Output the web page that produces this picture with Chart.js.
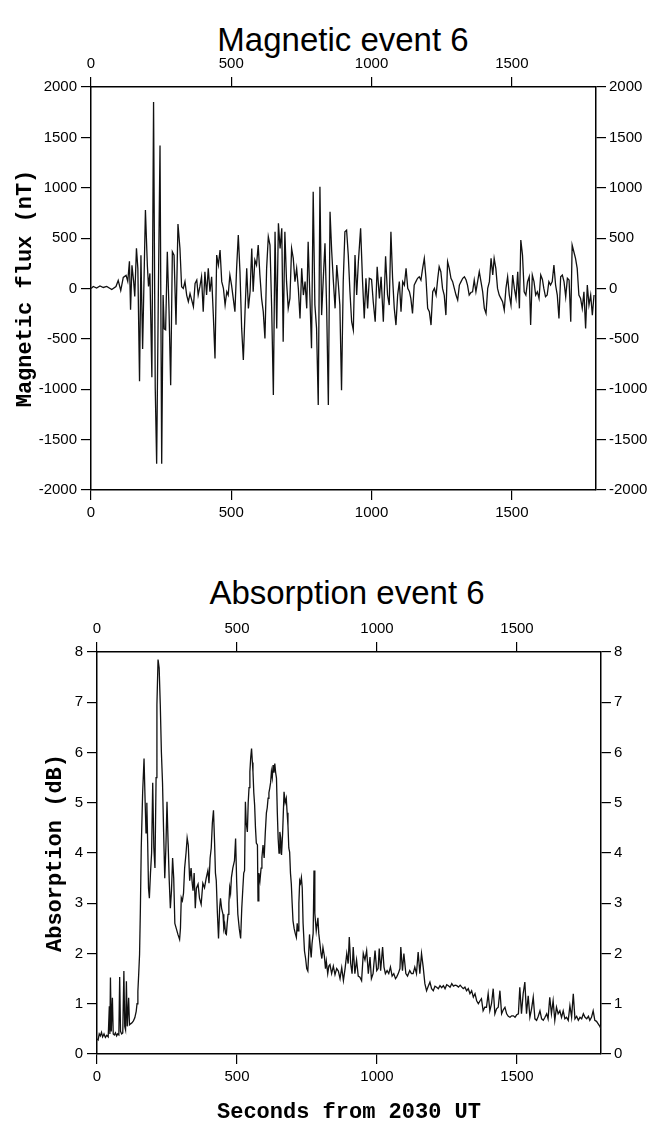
<!DOCTYPE html>
<html>
<head>
<meta charset="utf-8">
<title>Magnetic and absorption event 6</title>
<script src="https://cdn.jsdelivr.net/npm/chart.js@4.4.1/dist/chart.umd.min.js"></script>
<style>
  body { margin: 0; background: #fff; width: 664px; height: 1121px; position: relative; overflow: hidden; }
  .title { position: absolute; transform: translateX(-50%); white-space: nowrap;
           font-family: "Liberation Sans", Arial, sans-serif; font-size: 33px; line-height: 33px; color: #000; }
  canvas { position: absolute; left: 0; }
</style>
</head>
<body>
<div class="title" style="left:343px; top:23px;">Magnetic event 6</div>
<canvas id="magChart" width="664" height="545" style="top:0;"></canvas>
<div class="title" style="left:347px; top:576px;">Absorption event 6</div>
<canvas id="absChart" width="664" height="566" style="top:560px;"></canvas>
<script>
// tick values
const secondTicks = [0, 500, 1000, 1500];
const fluxTicks = [-2000, -1500, -1000, -500, 0, 500, 1000, 1500, 2000];
const dbTicks = [0, 1, 2, 3, 4, 5, 6, 7, 8];

// magnetic flux (nT)
const magSeconds = [
  0, 8, 20, 32, 44, 56, 74, 89, 97, 106, 115, 125, 131, 137, 141, 146, 152, 156, 162, 167,
  173, 178, 184, 194, 201, 205, 210, 217, 223, 229, 234, 240, 246, 252, 257, 261, 266, 272, 278, 284,
  290, 296, 303, 310, 317, 323, 329, 335, 341, 347, 353, 359, 365, 371, 377, 382, 388, 394, 400, 406,
  412, 418, 424, 430, 436, 442, 448, 454, 460, 466, 472, 478, 484, 489, 495, 501, 507, 513, 519, 525,
  531, 537, 543, 549, 555, 561, 567, 573, 578, 584, 590, 596, 602, 608, 614, 620, 626, 632, 638, 644,
  650, 656, 662, 668, 674, 680, 685, 691, 697, 703, 709, 715, 721, 727, 733, 739, 745, 751, 757, 763,
  769, 774, 780, 786, 792, 798, 804, 810, 816, 822, 828, 834, 840, 846, 852, 858, 864, 870, 876, 881,
  887, 893, 899, 905, 911, 917, 923, 929, 935, 941, 947, 953, 961, 968, 974, 980, 986, 992, 1000, 1006,
  1013, 1020, 1028, 1034, 1042, 1050, 1057, 1063, 1069, 1075, 1081, 1087, 1093, 1099, 1105, 1111, 1117, 1123, 1129, 1135,
  1140, 1146, 1152, 1158, 1164, 1170, 1176, 1182, 1188, 1194, 1200, 1206, 1212, 1218, 1224, 1230, 1236, 1241, 1247, 1253,
  1259, 1265, 1271, 1277, 1283, 1289, 1295, 1301, 1307, 1313, 1319, 1325, 1331, 1337, 1342, 1348, 1354, 1360, 1366, 1372,
  1378, 1384, 1390, 1396, 1402, 1408, 1414, 1420, 1426, 1432, 1437, 1443, 1449, 1455, 1461, 1467, 1473, 1479, 1485, 1491,
  1497, 1503, 1509, 1515, 1521, 1527, 1532, 1538, 1544, 1550, 1556, 1562, 1567, 1573, 1579, 1585, 1591, 1597, 1603, 1609,
  1614, 1620, 1626, 1632, 1638, 1644, 1650, 1656, 1662, 1668, 1674, 1680, 1686, 1692, 1698, 1704, 1710, 1715, 1721, 1727,
  1733, 1739, 1745, 1751, 1757, 1763, 1769, 1775, 1781, 1787, 1793
];
const magFlux = [
  0, 20, 5, 25, 10, 20, -10, 20, 80, -20, 110, 130, 70, 270, -210, 230, 70, -80, 400, 200,
  -920, 330, -600, 780, 220, 20, 150, -880, 1850, -990, -1740, -65, 1420, -1740, -65, -400, -410, 365, -200, -960,
  365, 330, -360, 640, 400, 18, 0, 68, -65, -131, -50, -115, -180, 51, 84, -65, 18, 117, -230, 167,
  -65, 200, -32, 117, -264, -694, 332, 233, 382, 68, 1, -164, -32, -65, 134, 34, -98, -230, 200, 530,
  167, -396, -710, -230, 200, -197, -32, 398, -32, 283, 233, 431, 134, -98, -230, -495, 200, 514, 431, -197,
  -1058, 564, -396, 647, 398, 597, -528, 564, 68, -197, -98, 398, 299, 68, 200, 1, -297, 200, -65, 68,
  -197, 465, -65, -594, 961, -164, -396, -1157, 1011, -264, 101, 448, -197, -1157, 762, 365, 68, -197, 233, 68,
  -164, -1010, 68, 564, 580, 332, -32, -330, -413, 332, -65, 266, 597, 68, -297, 101, -197, 101, 90, -131,
  -330, 216, -98, 117, -330, 320, -65, -164, 564, 101, -197, -363, -65, 68, -231, 68, 34, 200, 1, -32,
  -98, -247, 34, 68, 101, 117, 84, 200, 299, 101, -197, -231, -363, -32, 1, -65, 101, 216, 167, 1,
  -65, -264, 266, 200, 101, 68, 1, -65, -115, 34, 68, 101, 117, 84, 34, -65, -40, -32, 84, -32,
  68, 167, 68, -32, -197, -247, 1, 68, 299, 134, 299, 200, 1, -65, -98, -131, -214, 1, 117, -65,
  -164, 134, 1, -98, 167, -197, 481, 332, -32, -65, 68, 117, -363, 134, 68, -65, -32, -98, 134, 90,
  1, -82, -65, 68, 34, 68, 233, 34, -65, -297, 117, 134, 68, -82, 101, 84, -330, 431, 365, 299,
  200, -65, -98, -197, -32, -396, 34, -164, -65, -264, -65
];

// absorption (dB)
const absSeconds = [
  0, 4, 8, 12, 16, 20, 25, 30, 35, 40, 44, 46, 48, 51, 55, 58, 62, 66, 70, 74,
  78, 81, 84, 88, 92, 96, 99, 102, 105, 108, 113, 116, 120, 125, 130, 135, 140, 143, 146, 149,
  152, 155, 158, 163, 168, 172, 175, 178, 181, 184, 187, 191, 195, 199, 203, 207, 211, 214, 218, 222,
  226, 230, 234, 238, 242, 246, 250, 254, 258, 262, 266, 270, 274, 278, 283, 289, 295, 298, 301, 305,
  309, 313, 318, 322, 326, 331, 336, 340, 343, 347, 351, 355, 361, 366, 372, 378, 384, 390, 396, 400,
  404, 408, 412, 416, 420, 423, 426, 430, 434, 438, 441, 445, 450, 453, 456, 459, 462, 465, 468, 471,
  474, 477, 480, 485, 491, 495, 499, 503, 508, 513, 517, 521, 524, 527, 530, 533, 537, 540, 543, 546,
  549, 552, 555, 557, 560, 563, 566, 569, 573, 575, 578, 582, 586, 589, 593, 597, 601, 605, 608, 611,
  614, 617, 620, 623, 626, 629, 632, 635, 638, 641, 644, 647, 650, 653, 656, 659, 663, 668, 672, 676,
  679, 682, 685, 688, 691, 694, 697, 700, 704, 708, 712, 715, 718, 721, 724, 727, 730, 733, 736, 741,
  745, 749, 753, 756, 759, 762, 765, 768, 772, 775, 778, 783, 789, 792, 795, 800, 803, 807, 812, 816,
  819, 824, 828, 832, 838, 844, 850, 856, 862, 868, 874, 880, 886, 892, 897, 901, 906, 911, 915, 921,
  927, 933, 939, 945, 951, 957, 963, 969, 975, 980, 986, 993, 999, 1004, 1008, 1013, 1020, 1025, 1030, 1036,
  1042, 1048, 1054, 1060, 1066, 1070, 1076, 1082, 1085, 1091, 1096, 1103, 1109, 1117, 1123, 1129, 1135, 1141, 1147, 1153,
  1159, 1165, 1171, 1177, 1183, 1189, 1195, 1201, 1207, 1213, 1219, 1225, 1231, 1237, 1243, 1249, 1255, 1261, 1267, 1273,
  1279, 1285, 1291, 1297, 1303, 1308, 1314, 1320, 1326, 1332, 1338, 1344, 1350, 1356, 1362, 1368, 1373, 1379, 1385, 1391,
  1397, 1403, 1409, 1415, 1421, 1427, 1433, 1439, 1445, 1451, 1457, 1463, 1469, 1475, 1481, 1487, 1493, 1499, 1505, 1510,
  1516, 1522, 1528, 1534, 1540, 1546, 1552, 1558, 1564, 1570, 1576, 1582, 1588, 1594, 1600, 1606, 1611, 1617, 1623, 1629,
  1635, 1641, 1647, 1653, 1659, 1665, 1671, 1677, 1683, 1689, 1695, 1701, 1707, 1713, 1719, 1725, 1731, 1737, 1743, 1749,
  1755, 1760, 1766, 1772, 1778, 1784, 1790, 1796, 1800
];
const absDb = [
  0.30, 0.28, 0.40, 0.36, 0.43, 0.34, 0.40, 0.33, 0.37, 0.34, 0.95, 0.40, 1.52, 0.45, 1.12, 0.40, 0.38, 0.42, 0.36, 0.40,
  0.38, 1.53, 0.45, 0.40, 0.42, 1.65, 0.55, 0.48, 1.45, 0.55, 1.12, 0.58, 0.60, 0.62, 0.66, 0.72, 0.85, 1.0, 1.25, 1.6,
  1.98, 2.9, 4.1, 5.2, 5.88, 5.0, 4.4, 5.0, 4.2, 3.3, 3.1, 3.6, 4.0, 5.4, 4.1, 3.7, 5.5, 6.95, 7.85, 7.68,
  6.95, 6.0, 5.4, 4.4, 3.5, 4.1, 5.02, 4.2, 3.45, 2.9, 3.25, 3.9, 3.5, 2.6, 2.5, 2.38, 2.28, 2.5, 3.11, 3.05,
  3.2, 3.7, 4.0, 4.3, 4.16, 3.45, 3.7, 3.4, 3.25, 3.6, 2.9, 3.3, 3.38, 3.1, 2.98, 3.4, 3.31, 3.5, 3.65, 3.4,
  3.9, 4.1, 4.6, 4.85, 4.2, 3.6, 3.45, 2.8, 2.3, 2.9, 3.1, 2.9, 2.78, 2.5, 2.58, 2.4, 2.38, 2.6, 2.78, 3.0,
  3.31, 3.2, 3.51, 3.7, 3.85, 4.29, 3.4, 2.78, 2.5, 2.3, 2.9, 3.31, 3.6, 3.65, 5.02, 4.6, 4.42, 5.0, 5.3, 5.62,
  5.9, 6.08, 5.8, 5.62, 5.2, 4.95, 4.5, 4.2, 4.16, 3.05, 3.6, 3.45, 3.7, 3.91, 4.16, 3.9, 4.4, 4.8, 4.9, 5.09,
  5.2, 5.29, 5.4, 5.62, 5.5, 5.75, 5.6, 5.78, 5.6, 5.49, 4.8, 4.29, 4.0, 4.42, 4.3, 3.96, 4.4, 5.22, 5.0, 5.09,
  4.8, 4.55, 4.1, 4.02, 3.6, 3.38, 3.0, 2.65, 2.5, 2.4, 2.32, 2.6, 2.45, 3.0, 3.45, 3.4, 3.51, 3.31, 2.6, 2.05,
  1.9, 1.7, 1.65, 2.0, 2.38, 2.1, 1.92, 2.2, 2.4, 3.65, 2.8, 2.45, 2.71, 2.4, 2.25, 2.0, 1.9, 2.12, 1.95, 1.7,
  1.85, 1.6, 1.75, 1.78, 1.6, 1.75, 1.58, 1.7, 1.65, 1.5, 1.72, 1.46, 1.7, 2.0, 1.8, 2.33, 1.8, 1.6, 2.13, 1.6,
  1.87, 1.55, 1.53, 1.46, 2.0, 1.87, 2.06, 1.6, 1.93, 1.5, 1.6, 2.06, 1.66, 1.7, 2.1, 1.66, 2.13, 1.73, 1.6, 1.66,
  1.6, 1.73, 1.55, 1.6, 1.5, 1.53, 1.6, 1.7, 2.13, 1.66, 2.0, 1.6, 1.55, 1.66, 1.6, 1.6, 1.73, 1.6, 2.03, 1.6,
  2.0, 1.73, 1.4, 1.26, 1.35, 1.43, 1.3, 1.26, 1.35, 1.33, 1.3, 1.36, 1.32, 1.36, 1.3, 1.38, 1.36, 1.33, 1.4, 1.35,
  1.37, 1.36, 1.33, 1.37, 1.33, 1.3, 1.33, 1.26, 1.3, 1.2, 1.26, 1.13, 1.2, 1.06, 1.0, 1.06, 1.1, 0.86, 0.93, 0.93,
  1.2, 0.86, 1.0, 1.3, 0.8, 0.9, 0.93, 1.26, 0.8, 0.88, 0.93, 0.8, 0.75, 0.73, 0.76, 0.76, 0.73, 0.78, 0.8, 1.33,
  0.8, 1.2, 1.43, 0.8, 1.16, 0.73, 0.9, 1.13, 0.7, 0.67, 0.75, 0.86, 0.7, 0.67, 0.73, 0.8, 0.7, 1.13, 0.8, 1.06,
  0.67, 0.93, 0.8, 0.86, 0.73, 0.86, 0.7, 0.73, 0.67, 0.96, 0.73, 1.2, 0.7, 0.75, 0.67, 0.73, 0.7, 0.8, 0.73, 0.7,
  0.75, 0.67, 0.73, 0.86, 0.67, 0.65, 0.6, 0.55, 0.5
];

const tickFont = { family: "'Liberation Sans', Arial, sans-serif", size: 15 };
const labelFont = { family: "'Liberation Mono', 'Courier New', monospace", size: 22, weight: 'bold' };

function axis(position, min, max, tickList, size, opts) {
  const horizontal = position === 'top' || position === 'bottom';
  return Object.assign({
    type: 'linear',
    position: position,
    min: min,
    max: max,
    afterBuildTicks: s => { s.ticks = tickList.map(v => ({ value: v })); },
    afterFit: s => { if (horizontal) s.height = size; else s.width = size; },
    ticks: { color: '#000', font: tickFont, padding: 4, autoSkip: false, maxRotation: 0,
             callback: v => String(v) },
    grid: { drawOnChartArea: false, tickLength: 10, color: '#000', lineWidth: 1.2 },
    border: { color: '#000', width: 1.5 }
  }, opts || {});
}

function series(xs, ys) {
  return xs.map((x, i) => ({ x: x, y: ys[i] }));
}

function makeChart(id, data, yMin, yMax, yTicks, box, yTitle) {
  return new Chart(document.getElementById(id), {
    type: 'line',
    data: {
      datasets: [{
        data: data,
        xAxisID: 'x',
        yAxisID: 'y',
        borderColor: '#111',
        borderWidth: 1.3,
        pointRadius: 0,
        tension: 0
      }]
    },
    options: {
      responsive: false,
      animation: false,
      layout: { padding: 0 },
      plugins: { legend: { display: false }, tooltip: { enabled: false } },
      scales: {
        x: axis('bottom', 0, 1800, secondTicks, box.bottom, box.xTitle ? {
          title: { display: true, text: box.xTitle, color: '#000', font: labelFont, padding: 0 }
        } : null),
        xTop: axis('top', 0, 1800, secondTicks, box.top),
        y: axis('left', yMin, yMax, yTicks, box.left, {
          title: { display: true, text: yTitle, color: '#000', font: labelFont, padding: { top: box.titlePad, bottom: 0 } }
        }),
        yRight: axis('right', yMin, yMax, yTicks, box.right, {
          ticks: { color: '#000', font: tickFont, padding: 3, callback: v => String(v) }
        })
      }
    }
  });
}

makeChart('magChart', series(magSeconds, magFlux), -2000, 2000, fluxTicks,
  { top: 87, bottom: 55, left: 91, right: 68, titlePad: 12 }, 'Magnetic flux (nT)');

makeChart('absChart', series(absSeconds, absDb), 0, 8, dbTicks,
  { top: 92, bottom: 72, left: 97, right: 63, titlePad: 42, xTitle: 'Seconds from 2030 UT' }, 'Absorption (dB)');
</script>
</body>
</html>
